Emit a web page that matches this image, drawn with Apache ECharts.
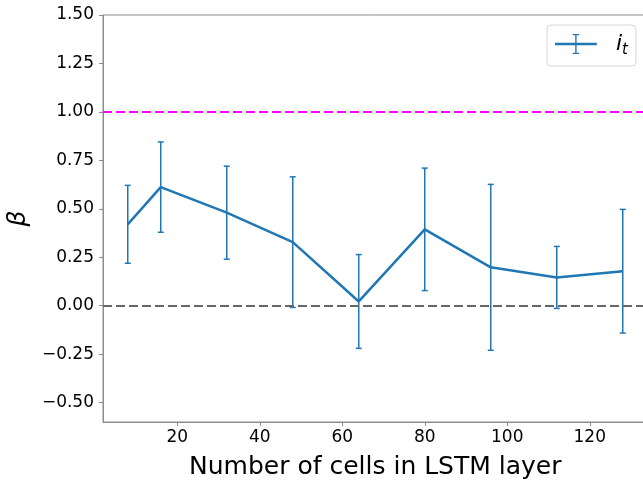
<!DOCTYPE html>
<html>
<head>
<meta charset="utf-8">
<script src="https://cdn.jsdelivr.net/npm/echarts@6/dist/echarts.min.js"></script>
<style>html,body{margin:0;padding:0;background:#fff}#c{width:643px;height:487px}</style>
</head>
<body>
<div id="c"></div>
<script>
// data
var cells = [8, 16, 32, 48, 64, 80, 96, 112, 128];
var betaMean = [0.42, 0.612, 0.48, 0.328, 0.022, 0.394, 0.198, 0.146, 0.178];
var betaErr = [0.201, 0.233, 0.24, 0.337, 0.242, 0.316, 0.428, 0.16, 0.319];
var xTicks = [20, 40, 60, 80, 100, 120];
var yTicks = [-0.5, -0.25, 0, 0.25, 0.5, 0.75, 1.0, 1.25, 1.5];
var refOne = 1.0;
var refZero = 0.0;

var lineData = cells.map(function (c, i) { return [c, betaMean[i]]; });
var errData = cells.map(function (c, i) { return [c, betaMean[i] - betaErr[i], betaMean[i] + betaErr[i]]; });

var FONT = 'DejaVu Sans';
var BLUE = '#1f77b4';
var SPINE = '#8c8c8c';

var chart = echarts.init(document.getElementById('c'), null, { renderer: 'canvas' });
chart.setOption({
  animation: false,
  backgroundColor: '#fff',
  textStyle: { fontFamily: FONT },
  grid: { left: 103, top: 15, bottom: 65, right: -4.5, show: true, borderColor: SPINE, borderWidth: 1, containLabel: false, outerBoundsMode: 'none' },
  xAxis: {
    type: 'value', min: 2, max: 134,
    name: 'Number of cells in LSTM layer', nameLocation: 'middle', nameGap: 33,
    nameTextStyle: { fontFamily: FONT, fontSize: 25, color: '#000' },
    axisLine: { show: true, onZero: false, lineStyle: { color: SPINE, width: 1 } },
    axisTick: { show: true, length: 4, customValues: xTicks, lineStyle: { color: SPINE } },
    axisLabel: { customValues: xTicks, fontFamily: FONT, fontSize: 17, color: '#000', margin: 7 },
    splitLine: { show: false }
  },
  yAxis: {
    type: 'value', min: -0.6, max: 1.5,
    name: 'β', nameLocation: 'middle', nameGap: 40,
    nameTextStyle: { fontFamily: FONT, fontSize: 25, fontStyle: 'italic', color: '#000' },
    axisLine: { show: true, onZero: false, lineStyle: { color: SPINE, width: 1 } },
    axisTick: { show: true, length: 4, customValues: yTicks, lineStyle: { color: SPINE } },
    axisLabel: {
      customValues: yTicks, fontFamily: FONT, fontSize: 17, color: '#000', margin: 9,
      formatter: function (v) { var s = Math.abs(v).toFixed(2); return (v < -1e-9 ? '\u2212' : '') + s; }
    },
    splitLine: { show: false }
  },
  legend: {
    show: true, left: 547, top: 25,
    data: ['it'],
    backgroundColor: '#fff',
    borderColor: '#d6d6d6', borderWidth: 1, borderRadius: 4,
    padding: [8, 8, 8, 8],
    itemWidth: 46, itemHeight: 20,
    icon: 'path://M0,9.75h46v2.5h-46z M22.25,0h1.5v22h-1.5z M19.5,0h7v1.5h-7z M19.5,20.5h7v1.5h-7z',
    formatter: function () { return '{i|i}{t|t}'; },
    textStyle: {
      rich: {
        i: { fontFamily: FONT, fontSize: 22, fontStyle: 'italic', color: '#000', padding: [0, 0, 0, 12], verticalAlign: 'middle', lineHeight: 22 },
        t: { fontFamily: FONT, fontSize: 15, fontStyle: 'italic', color: '#000', verticalAlign: 'bottom', lineHeight: 22, padding: [0, 0, -3, 0] }
      }
    }
  },
  series: [
    {
      name: 'ref1', type: 'line', data: [], silent: true,
      markLine: {
        silent: true, symbol: 'none', label: { show: false },
        lineStyle: { color: '#ff00ff', width: 2, type: [9, 4] },
        data: [{ yAxis: refOne }]
      }
    },
    {
      name: 'ref0', type: 'line', data: [], silent: true,
      markLine: {
        silent: true, symbol: 'none', label: { show: false },
        lineStyle: { color: '#666666', width: 2, type: [9, 4] },
        data: [{ yAxis: refZero }]
      }
    },
    {
      name: 'it', type: 'line', data: lineData,
      color: BLUE,
      symbol: 'none', showSymbol: false,
      lineStyle: { color: BLUE, width: 2.5 },
      itemStyle: { color: BLUE },
      z: 3
    },
    {
      name: 'err', type: 'custom', data: errData,
      encode: { x: 0, y: [1, 2] },
      z: 4,
      renderItem: function (params, api) {
        var x = api.value(0);
        var lo = api.coord([x, api.value(1)]);
        var hi = api.coord([x, api.value(2)]);
        var cap = 3;
        var st = { stroke: BLUE, lineWidth: 1.5 };
        return {
          type: 'group',
          children: [
            { type: 'line', shape: { x1: lo[0], y1: lo[1], x2: hi[0], y2: hi[1] }, style: st },
            { type: 'line', shape: { x1: lo[0] - cap, y1: lo[1], x2: lo[0] + cap, y2: lo[1] }, style: st },
            { type: 'line', shape: { x1: hi[0] - cap, y1: hi[1], x2: hi[0] + cap, y2: hi[1] }, style: st }
          ]
        };
      }
    }
  ]
});
</script>
</body>
</html>
